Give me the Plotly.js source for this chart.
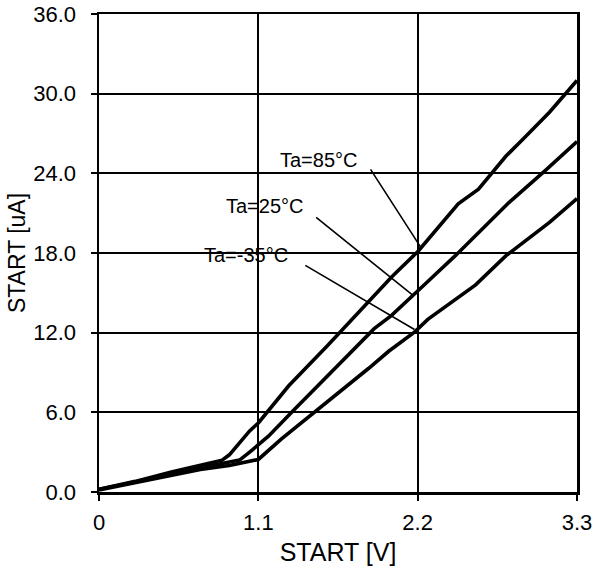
<!DOCTYPE html>
<html>
<head>
<meta charset="utf-8">
<script src="https://cdn.plot.ly/plotly-3.0.1.min.js"></script>
<style>html,body{margin:0;padding:0;background:#fff;}#chart{width:595px;height:576px;}</style>
</head>
<body>
<div id="chart"></div>
<script>
// Data
const seriesNames = ["Ta=85\u00B0C", "Ta=25\u00B0C", "Ta=-35\u00B0C"];

const v85 = [0, 0.25, 0.5, 0.7, 0.85, 0.9, 1.04, 1.1, 1.31, 1.58, 1.70, 1.88, 2.02, 2.2, 2.48, 2.62, 2.72, 2.81, 2.93, 3.11, 3.3];
const i85 = [0.2, 0.8, 1.5, 2.0, 2.4, 2.8, 4.6, 5.2, 8.0, 11.05, 12.45, 14.6, 16.2, 18.1, 21.7, 22.8, 24.1, 25.3, 26.6, 28.6, 31.0];

const v25 = [0, 0.25, 0.5, 0.7, 0.85, 0.97, 1.04, 1.17, 1.33, 1.65, 1.90, 2.02, 2.2, 2.27, 2.46, 2.69, 2.83, 3.09, 3.3];
const i25 = [0.2, 0.75, 1.4, 1.8, 2.1, 2.4, 3.0, 4.2, 6.0, 9.5, 12.3, 13.3, 15.1, 15.85, 17.8, 20.3, 21.8, 24.3, 26.4];

const vm35 = [0, 0.25, 0.5, 0.7, 0.9, 1.0, 1.1, 1.26, 1.49, 1.72, 1.86, 2.0, 2.18, 2.27, 2.6, 2.81, 3.11, 3.3];
const im35 = [0.15, 0.7, 1.3, 1.7, 2.0, 2.2, 2.45, 4.0, 6.0, 8.0, 9.3, 10.6, 12.06, 13.0, 15.6, 17.8, 20.3, 22.1];

const xTickVals = [0, 1.1, 2.2, 3.3];
const xTickText = ["0", "1.1", "2.2", "3.3"];
const yTickVals = [0, 6, 12, 18, 24, 30, 36];
const yTickText = ["0.0", "6.0", "12.0", "18.0", "24.0", "30.0", "36.0"];

const xTitle = "START [V]";
const yTitle = "START [uA]";

const FONT = "'Liberation Sans', Arial, Helvetica, sans-serif";
const lineStyle = {color: "#000", width: 3.6};

const traces = [
  {x: v85, y: i85, name: seriesNames[0], mode: "lines", line: lineStyle},
  {x: v25, y: i25, name: seriesNames[1], mode: "lines", line: lineStyle},
  {x: vm35, y: im35, name: seriesNames[2], mode: "lines", line: lineStyle}
];

function label(text, x, y, ax, ay, tx, ty) {
  return [
    {x: x, y: y, xref: "x", yref: "y", ax: ax, ay: ay, axref: "x", ayref: "y",
     text: "", showarrow: true, arrowhead: 0, arrowwidth: 1.6, arrowcolor: "#000", standoff: 0, startstandoff: 0},
    {x: tx, y: ty, xref: "x", yref: "y", text: text, showarrow: false,
     font: {family: FONT, size: 20, color: "#000"}, xanchor: "center", yanchor: "middle"}
  ];
}

const annotations = [].concat(
  label(seriesNames[0], 2.224, 18.39, 1.868, 24.41, 1.517, 25.04),
  label(seriesNames[1], 2.166, 14.82, 1.489, 20.77, 1.145, 21.57),
  label(seriesNames[2], 2.178, 12.24, 1.414, 17.13, 1.018, 17.88)
);

const axisCommon = {
  showline: true, linecolor: "#000", linewidth: 2.5, mirror: true,
  showgrid: true, gridcolor: "#000", gridwidth: 1.8,
  zeroline: false, ticks: "outside", ticklen: 6, tickwidth: 2, tickcolor: "#000",
  tickfont: {family: FONT, size: 22, color: "#000"}
};

const layout = {
  width: 595, height: 576,
  margin: {l: 99, r: 18, t: 14, b: 84},
  paper_bgcolor: "#fff", plot_bgcolor: "#fff",
  showlegend: false,
  font: {family: FONT, color: "#000"},
  xaxis: Object.assign({}, axisCommon, {
    range: [0, 3.3], tickmode: "array", tickvals: xTickVals, ticktext: xTickText,
    ticklabelstandoff: 3,
    title: {text: xTitle, font: {family: FONT, size: 25, color: "#000"}, standoff: 10}
  }),
  yaxis: Object.assign({}, axisCommon, {
    range: [0, 36], tickmode: "array", tickvals: yTickVals, ticktext: yTickText,
    ticklabelstandoff: 10,
    title: {text: yTitle, font: {family: FONT, size: 23, color: "#000"}, standoff: 1}
  }),
  annotations: annotations
};

Plotly.newPlot("chart", traces, layout, {displayModeBar: false, staticPlot: true});
</script>
</body>
</html>
